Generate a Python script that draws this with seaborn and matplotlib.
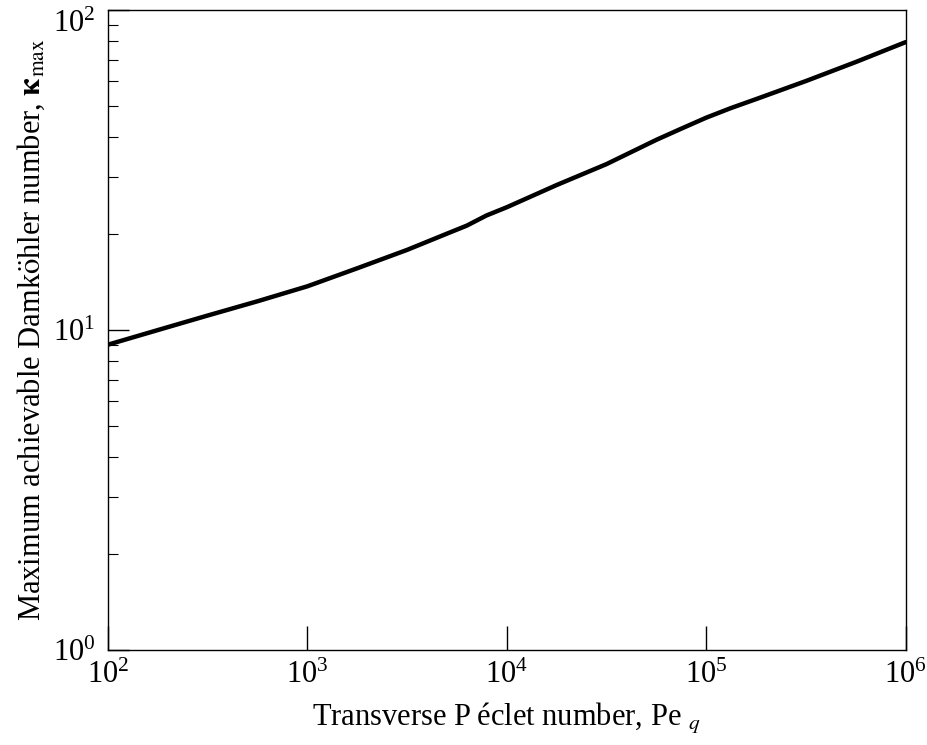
import numpy as np
import pandas as pd
import matplotlib
matplotlib.use("Agg")
import matplotlib.pyplot as plt
import seaborn as sns
from matplotlib.ticker import LogLocator, NullLocator, NullFormatter

# Transverse Peclet number and the corresponding maximum achievable Damkohler number
peclet = [1e2, 1.78e2, 3.16e2, 5.62e2, 1e3, 1.78e3, 3.16e3, 5.0e3, 6.3e3,
          7.9e3, 1e4, 1.78e4, 3.16e4, 5.62e4, 7.5e4, 1e5, 1.33e5, 1.78e5,
          3.16e5, 5.62e5, 1e6]
kappa_max = [9.0, 10.0, 11.1, 12.3, 13.7, 15.6, 17.8, 20.0, 21.2,
             22.8, 24.2, 28.4, 33.0, 39.3, 42.6, 46.1, 49.4, 52.7,
             60.0, 68.8, 79.4]

xlabel = "Transverse P\u2009\u00e9clet number, Pe $_{q}$"
ylabel = r"Maximum achievable Damk$\mathrm{\"o}$hler number, $\mathbf{\kappa}_{\mathrm{max}}$"

sns.set_style("ticks")
plt.rcParams["font.family"] = ["Liberation Serif", "DejaVu Serif"]
plt.rcParams["mathtext.fontset"] = "stix"
plt.rcParams["text.color"] = "black"
plt.rcParams["axes.labelcolor"] = "black"
plt.rcParams["xtick.color"] = "black"
plt.rcParams["ytick.color"] = "black"
plt.rcParams["axes.edgecolor"] = "black"

df = pd.DataFrame({"Pe": peclet, "kappa": kappa_max})

fig = plt.figure(figsize=(9.27, 7.45), dpi=100)
ax = fig.add_axes([0.1165, 0.1275, 0.8605, 0.859])

sns.lineplot(data=df, x="Pe", y="kappa", ax=ax, color="black", linewidth=3.2)

ax.set_xscale("log")
ax.set_yscale("log")
ax.set_xlim(1e2, 1e6)
ax.set_ylim(1e0, 1e2)

ax.xaxis.set_major_locator(LogLocator(base=10, numticks=10))
ax.xaxis.set_minor_locator(NullLocator())
ax.yaxis.set_major_locator(LogLocator(base=10, numticks=10))
ax.yaxis.set_minor_locator(LogLocator(base=10, subs=np.arange(2, 10), numticks=20))
ax.yaxis.set_minor_formatter(NullFormatter())

ax.tick_params(axis="both", which="major", direction="in", labelsize=22,
               colors="black", width=1.0, top=False, right=False)
ax.tick_params(axis="x", which="major", length=17, pad=8)
ax.tick_params(axis="y", which="major", length=15, pad=9)
ax.tick_params(axis="y", which="minor", direction="in", length=7, width=0.8,
               color="black", right=False)

for side in ["left", "right", "top", "bottom"]:
    ax.spines[side].set_visible(True)
    ax.spines[side].set_color("black")
    ax.spines[side].set_linewidth(1.0)

ax.set_xlabel(xlabel, fontsize=22, labelpad=8)
ax.set_ylabel(ylabel, fontsize=22, labelpad=4)

# keep the top y label inside the figure
fig.canvas.draw()
for t in ax.yaxis.get_major_ticks():
    if np.isclose(t.get_loc(), 1e2):
        t.label1.set_verticalalignment("top")

fig.savefig("out.png", dpi=100, facecolor="white")
